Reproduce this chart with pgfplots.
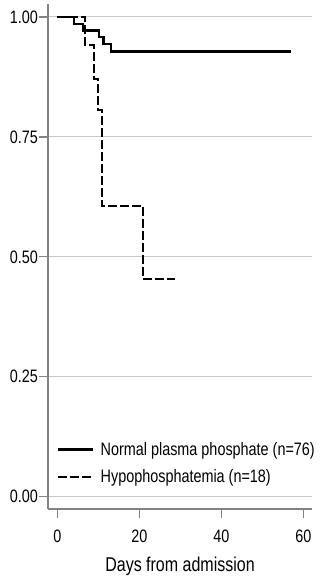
\documentclass[border=0pt]{standalone}
\usepackage{fontspec}
\setmainfont{Liberation Sans}[FakeStretch=0.8]
\usepackage{pgfplots}
\pgfplotsset{compat=1.18}
\definecolor{axgray}{RGB}{130,130,130}
\definecolor{gridgray}{RGB}{200,200,200}
\newcommand\tickfont{\fontsize{18bp}{21.6bp}\selectfont}
\newcommand\labfont{\fontsize{20bp}{24bp}\selectfont}
\begin{document}
\begin{tikzpicture}
\path[use as bounding box] (-48bp,-70bp) rectangle (273bp,509bp);
\begin{axis}[
  at={(0,0)}, anchor=south west,
  scale only axis, width=264bp, height=505bp,
  xmin=-2.27, xmax=62.12, ymin=-0.0257, ymax=1.027,
  axis x line*=bottom, axis y line*=left,
  axis line style={axgray, line width=1.3bp},
  xtick={0,20,40,60}, xticklabels={0,20,40,60},
  ytick={0,0.25,0.5,0.75,1}, yticklabels={0.00,0.25,0.50,0.75,1.00},
  ymajorgrids, grid style={gridgray, line width=1bp},
  tick align=outside, major tick length=9bp,
  tick style={axgray, line width=1.3bp},
  tick label style={font=\tickfont},
  yticklabel style={inner sep=1bp},
  xticklabel style={inner sep=1bp, yshift=-11bp},
  xlabel={Days from admission},
  xlabel style={font=\labfont, at={(axis description cs:0.5,0)}, anchor=base, yshift=-62.7bp},
  legend style={at={(axis cs:-0.15,0.0697)}, anchor=west, draw=none, fill=none,
    font=\tickfont, row sep=13bp, inner sep=0pt, nodes={inner sep=0pt},
    /tikz/every odd column/.append style={column sep=6.5bp},
    cells={anchor=west}},
  legend image code/.code={\draw[#1] (0bp,0bp) -- (35bp,0bp);},
]
\addplot[const plot, black, line width=2.3bp] coordinates {
  (0,1) (4.0,0.985) (6.2,0.972) (10.1,0.958) (11.3,0.944) (13.1,0.928) (57,0.928)};
\addlegendentry{Normal plasma phosphate (n=76)}
\addplot[const plot, black, line width=2bp, dash pattern=on 9bp off 3bp] coordinates {
  (0,1) (6.8,0.942) (8.9,0.871) (9.9,0.806) (10.9,0.605) (20.9,0.454) (28.8,0.454)};
\addlegendentry{Hypophosphatemia (n=18)}
\end{axis}
\end{tikzpicture}
\end{document}
